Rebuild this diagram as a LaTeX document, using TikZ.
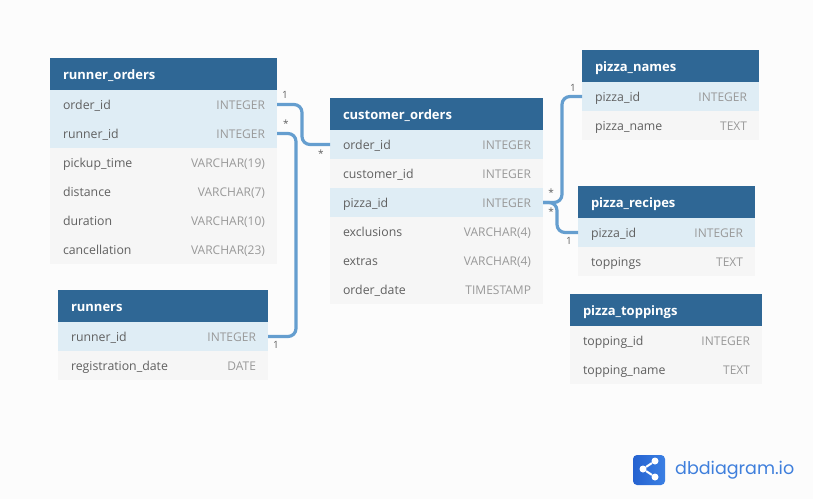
\documentclass[tikz,border=0pt]{standalone}
\usepackage{fontspec}
\setmainfont{Open Sans}
\newfontfamily\brandfont{Poppins}
\usetikzlibrary{arrows,shapes.misc}
\definecolor{headblue}{HTML}{2F6795}
\definecolor{keyrow}{HTML}{DFEDF5}
\definecolor{plainrow}{HTML}{F6F6F6}
\definecolor{pagecol}{HTML}{FCFCFC}
\definecolor{fieldcol}{HTML}{606060}
\definecolor{typecol}{HTML}{999999}
\definecolor{relcol}{HTML}{659ECF}
\definecolor{logodark}{HTML}{2562D0}
\definecolor{logolight}{HTML}{3B80E4}
\definecolor{logotext}{HTML}{3F7FDC}
\newcommand{\fld}[2]{\hspace*{1pt}\textcolor{fieldcol}{\fontsize{12.3}{14}\selectfont #1}\hfill\textcolor{typecol}{\fontsize{12}{14}\selectfont #2}}
\tikzset{
    tblcell/.style={anchor=north west, inner ysep=0pt, outer sep=0pt, align=left,
        text height=12pt, text depth=3pt},
    head/.style={tblcell, inner xsep=13pt, text width=#1-26pt, fill=headblue, text=white,
        text height=14pt, minimum height=32pt, font=\fontsize{13}{14}\selectfont\bfseries},
    keyrow/.style={tblcell, inner xsep=12pt, text width=#1-24pt, fill=keyrow, minimum height=29pt},
    plainrow/.style={tblcell, inner xsep=12pt, text width=#1-24pt, fill=plainrow, minimum height=29pt},
    rel/.style={draw=relcol, line width=3.2pt, rounded corners=8pt},
    card/.style={text=fieldcol, inner sep=0pt, font=\fontsize{10}{11}\selectfont},
    dot/.style={circle, fill=white, inner sep=0pt, minimum size=7pt}
}
\begin{document}
\begin{tikzpicture}[x=1pt,y=-1pt]
            \fill[pagecol] (0,0) rectangle (813,499);
            % runner_orders
            \node[head=227pt](ro) at (50,58) {runner\_orders};
            \node[keyrow=227pt](roOrder) at (50,90) {\fld{order\_id}{INTEGER}};
            \node[keyrow=227pt](roRunner) at (50,119) {\fld{runner\_id}{INTEGER}};
            \node[plainrow=227pt](roPickup) at (50,148) {\fld{pickup\_time}{VARCHAR(19)}};
            \node[plainrow=227pt](roDist) at (50,177) {\fld{distance}{VARCHAR(7)}};
            \node[plainrow=227pt](roDur) at (50,206) {\fld{duration}{VARCHAR(10)}};
            \node[plainrow=227pt](roCancel) at (50,235) {\fld{cancellation}{VARCHAR(23)}};
            % runners
            \node[head=210pt](rn) at (58,290) {runners};
            \node[keyrow=210pt](rnRunner) at (58,322) {\fld{runner\_id}{INTEGER}};
            \node[plainrow=210pt](rnDate) at (58,351) {\fld{registration\_date}{DATE}};
            % customer_orders
            \node[head=213pt](co) at (330,98) {customer\_orders};
            \node[keyrow=213pt](coOrder) at (330,130) {\fld{order\_id}{INTEGER}};
            \node[plainrow=213pt](coCust) at (330,159) {\fld{customer\_id}{INTEGER}};
            \node[keyrow=213pt](coPizza) at (330,188) {\fld{pizza\_id}{INTEGER}};
            \node[plainrow=213pt](coExcl) at (330,217) {\fld{exclusions}{VARCHAR(4)}};
            \node[plainrow=213pt](coExtra) at (330,246) {\fld{extras}{VARCHAR(4)}};
            \node[plainrow=213pt](coDate) at (330,275) {\fld{order\_date}{TIMESTAMP}};
            % pizza_names
            \node[head=177pt](pn) at (582,50) {pizza\_names};
            \node[keyrow=177pt](pnPizza) at (582,82) {\fld{pizza\_id}{INTEGER}};
            \node[plainrow=177pt](pnName) at (582,111) {\fld{pizza\_name}{TEXT}};
            % pizza_recipes
            \node[head=177pt](pr) at (578,186) {pizza\_recipes};
            \node[keyrow=177pt](prPizza) at (578,218) {\fld{pizza\_id}{INTEGER}};
            \node[plainrow=177pt](prTop) at (578,247) {\fld{toppings}{TEXT}};
            % pizza_toppings
            \node[head=192pt](pt) at (570,294) {pizza\_toppings};
            \node[plainrow=192pt](ptId) at (570,326) {\fld{topping\_id}{INTEGER}};
            \node[plainrow=192pt](ptName) at (570,355) {\fld{topping\_name}{TEXT}};
            % relations
            \draw[rel] (roOrder.east) -- ++(25,0) |- (coOrder.west);
            \draw[rel] (roRunner.east) -- ++(19,0) |- (rnRunner.east);
            \draw[rel] (coPizza.east) -- ++(19,0) |- (pnPizza.west);
            \draw[rel] (coPizza.east) -- ++(14,0) |- (prPizza.west);
            \node[card](c1) at (285,95) {1};
            \node[card](c2) at (286,124) {*};
            \node[card](c3) at (321,154) {*};
            \node[card](c4) at (276,345) {1};
            \node[card](c5) at (573,88) {1};
            \node[card](c6) at (551,193) {*};
            \node[card](c7) at (551,212) {*};
            \node[card](c8) at (569,241) {1};
            % logo
            \node[left color=logodark, right color=logolight, rounded corners=4pt, minimum width=32pt, minimum height=30pt, inner sep=0pt](logo) at (649,470) {};
            \node[dot](dotL) at (643,469) {};
            \node[dot](dotT) at (655,461) {};
            \node[dot](dotB) at (655,477) {};
            \draw[white, line width=2pt] (dotT) -- (dotL) -- (dotB);
            \node[anchor=west, inner sep=0pt, text=logotext, font=\brandfont\fontsize{17.5}{20}\selectfont](brand) at (675,470) {dbdiagram.io};
        \end{tikzpicture}
\end{document}
